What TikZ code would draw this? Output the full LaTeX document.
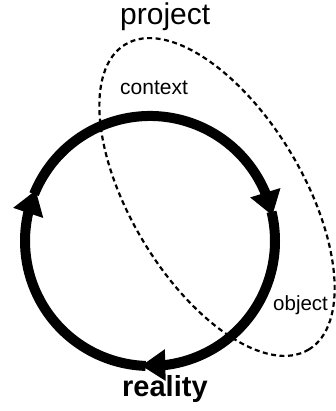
\documentclass[tikz,border=0pt]{standalone}
\usepackage{fontspec}
\setmainfont{Liberation Sans}
\usetikzlibrary{arrows.meta,bending,calc}

\begin{document}
\begin{tikzpicture}[x=1pt,y=1pt]
		\tikzset{cyclearc/.style={line width=10pt, -{Triangle[length=24pt,width=30pt]}},
		lbl/.style={inner sep=0pt, anchor=base west}}
\useasboundingbox (0,0) rectangle (336,411);
\coordinate (c) at (150,170);

\foreach \from/\to in {158/11.7,13.5/-94,268/156}
{
	\draw[cyclearc] ($(c)+(\from:125)$) arc[start angle=\from, end angle=\to, radius=125];
}

\draw[line width=2.2pt, dash pattern=on 5pt off 3.5pt, rotate around={-59:(217,214)}]
	(217,214) ellipse [x radius=178, y radius=86];

\node[lbl, font=\fontsize{30}{30}\selectfont] (proj) at (120,386) {project};
\node[lbl, font=\fontsize{21}{21}\selectfont] (ctx) at (120,316) {context};
\node[lbl, font=\fontsize{20.5}{20.5}\selectfont] (obj) at (273,100) {object};
\node[lbl, font=\fontsize{29}{29}\selectfont\bfseries] (real) at (122,14) {reality};

		\end{tikzpicture}
\end{document}
